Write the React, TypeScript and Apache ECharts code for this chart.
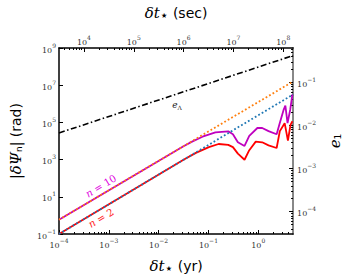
import React, { useEffect, useRef } from 'react';
import * as echarts from 'echarts';

// ---------- data ----------
const YR_TO_SEC = 3.156e7;
const timeRangeYr = [1e-4, 5.0];
const psiRange = [1e-1, 1e9];
const eRange = [3.04e-5, 0.628];

// n = 10 (magenta, solid)
const n10Time = [1e-4, 0.031, 0.048, 0.076, 0.138, 0.25, 0.31, 0.39, 0.53, 0.66, 0.96, 1.2, 1.61, 2.34, 2.67, 3.2, 3.5, 3.87, 4.38, 4.85];
const n10Psi = [0.59, 5100, 9500, 1.7e4, 2.9e4, 3.3e4, 2.3e4, 8500, 5400, 1.9e4, 5.0e4, 5.0e4, 3.4e4, 2.3e4, 8.1e4, 4.4e5, 7.9e5, 9.1e4, 4.8e5, 3.2e6];
// n = 2 (red, solid)
const n2Time = [1e-4, 0.031, 0.056, 0.102, 0.16, 0.25, 0.31, 0.39, 0.53, 0.66, 0.89, 1.2, 1.61, 2.34, 2.71, 3.39, 3.94, 4.44, 4.85];
const n2Psi = [0.1, 960, 2300, 4700, 6900, 6200, 4700, 2100, 980, 3200, 9300, 8500, 5800, 4200, 3.4e4, 9.1e4, 1.05e4, 7.4e4, 1.15e5];
// power-law (dotted) references
const n10PowerTime = [1e-4, 5.0];
const n10PowerPsi = [0.59, 1.58e7];
const n2PowerTime = [1e-4, 5.0];
const n2PowerPsi = [0.1, 3.16e6];
// e_Lambda (dash-dot, right axis)
const eLambdaTime = [1e-4, 5.0];
const eLambdaVal = [6.7e-3, 0.42];

// tick labels (decade exponents)
const leftTickExp = [-1, 1, 3, 5, 7, 9];
const bottomTickExp = [-4, -3, -2, -1, 0];
const topTickExp = [4, 5, 6, 7, 8];
const rightTickExp = [-4, -3, -2, -1];

// ---------- helpers ----------
const lg = Math.log10;
const pow10Label = (v: number) => {
  const e = Math.round(v);
  return `{b|10}{p|${e < 0 ? '−' + -e : e}}`;
};
const minorTicks = (lo: number, hi: number) => {
  const out: number[] = [];
  for (let d = Math.floor(lo) - 1; d <= Math.ceil(hi); d++) {
    for (let k = 2; k <= 9; k++) {
      const v = d + lg(k);
      if (v > lo && v < hi) out.push(v);
    }
  }
  return out;
};
const pairs = (xs: number[], ys: number[]) => xs.map((x, i) => [lg(x), lg(ys[i])]);

const LABEL_FONT = 'DejaVu Serif';
const labelStyle = {
  fontFamily: LABEL_FONT,
  color: '#333',
  rich: {
    b: { fontFamily: LABEL_FONT, fontSize: 8, color: '#333', verticalAlign: 'bottom', lineHeight: 12 },
    p: { fontFamily: LABEL_FONT, fontSize: 6, color: '#333', verticalAlign: 'top', lineHeight: 12 },
  },
};

export default function App() {
  const ref = useRef<HTMLDivElement>(null);
  useEffect(() => {
    if (!ref.current) return;
    const chart = echarts.init(ref.current, undefined, { renderer: 'svg' });

    const xMin = lg(timeRangeYr[0]);
    const xMax = lg(timeRangeYr[1]);
    const sMin = lg(timeRangeYr[0] * YR_TO_SEC);
    const sMax = lg(timeRangeYr[1] * YR_TO_SEC);
    const yMin = lg(psiRange[0]);
    const yMax = lg(psiRange[1]);
    const eMin = lg(eRange[0]);
    const eMax = lg(eRange[1]);

    const nameRich = {
      m: { fontFamily: 'DejaVu Serif', fontStyle: 'italic', fontSize: 15, color: '#000', verticalAlign: 'middle' },
      s: { fontFamily: 'DejaVu Sans', fontSize: 9, color: '#000', verticalAlign: 'bottom', padding: [6, 0, 0, 0] },
      st: { fontFamily: 'DejaVu Sans', fontSize: 14, color: '#000', verticalAlign: 'bottom', padding: [5, 0, 0, 0] },
      r: { fontFamily: 'DejaVu Sans', fontSize: 14, color: '#000', verticalAlign: 'middle' },
    };

    const majorTick = (len: number) => ({ show: true, inside: true, length: len, lineStyle: { color: '#000', width: 1 } });
    const spine = (color: string, width: number) => ({ show: true, onZero: false, lineStyle: { color, width } });
    const noSpine = { show: false, onZero: false };

    chart.setOption({
      animation: false,
      grid: { left: 55, right: 53, top: 41, bottom: 44, containLabel: false },
      xAxis: [
        {
          type: 'value', position: 'bottom', min: xMin, max: xMax,
          axisLine: spine('#000', 1.5),
          axisTick: { ...majorTick(4), customValues: bottomTickExp },
          axisLabel: { ...labelStyle, margin: 3, customValues: bottomTickExp, formatter: pow10Label },
          splitLine: { show: false },
          name: '{m|δt}{st|⋆}{r| (yr)}', nameLocation: 'middle', nameGap: 22,
          nameTextStyle: { rich: nameRich },
        },
        {
          type: 'value', position: 'bottom', min: xMin, max: xMax,
          axisLine: noSpine,
          axisTick: { ...majorTick(2), customValues: minorTicks(xMin, xMax) },
          axisLabel: { show: false },
          splitLine: { show: false },
        },
        {
          type: 'value', position: 'top', min: sMin, max: sMax,
          axisLine: spine('#000', 1.5),
          axisTick: { ...majorTick(4), customValues: topTickExp },
          axisLabel: { ...labelStyle, margin: 2, customValues: topTickExp, formatter: pow10Label },
          splitLine: { show: false },
          name: '{m|δt}{st|⋆}{r| (sec)}', nameLocation: 'middle', nameGap: 26,
          nameTextStyle: { rich: nameRich },
        },
        {
          type: 'value', position: 'top', min: sMin, max: sMax,
          axisLine: noSpine,
          axisTick: { ...majorTick(2), customValues: minorTicks(sMin, sMax) },
          axisLabel: { show: false },
          splitLine: { show: false },
        },
      ],
      yAxis: [
        {
          type: 'value', position: 'left', min: yMin, max: yMax,
          axisLine: spine('#000', 1.5),
          axisTick: { ...majorTick(4), customValues: leftTickExp },
          axisLabel: { ...labelStyle, margin: 3, customValues: leftTickExp, formatter: pow10Label },
          splitLine: { show: false },
          name: '{r||}{m|δΨ}{s|n}{r||}{r| (rad)}', nameLocation: 'middle', nameGap: 36, nameRotate: 90,
          nameTextStyle: { rich: nameRich },
        },
        {
          type: 'value', position: 'right', min: eMin, max: eMax,
          axisLine: spine('#888', 2),
          axisTick: { ...majorTick(4), customValues: rightTickExp },
          axisLabel: { ...labelStyle, margin: 4, customValues: rightTickExp, formatter: pow10Label },
          splitLine: { show: false },
          name: '{m|e}{s|1}', nameLocation: 'middle', nameGap: 30, nameRotate: 90,
          nameTextStyle: { rich: nameRich },
        },
        {
          type: 'value', position: 'right', min: eMin, max: eMax,
          axisLine: noSpine,
          axisTick: { ...majorTick(2), customValues: minorTicks(eMin, eMax) },
          axisLabel: { show: false },
          splitLine: { show: false },
        },
      ],
      series: [
        {
          name: 'eLambda', type: 'line', xAxisIndex: 0, yAxisIndex: 1, symbol: 'none',
          data: pairs(eLambdaTime, eLambdaVal),
          lineStyle: { color: '#000', width: 1.6, type: [6, 2.5, 1.5, 2.5] },
        },
        {
          name: 'n10', type: 'line', xAxisIndex: 0, yAxisIndex: 0, symbol: 'none',
          data: pairs(n10Time, n10Psi),
          lineStyle: { color: '#bf00bf', width: 1.8 },
        },
        {
          name: 'n2', type: 'line', xAxisIndex: 0, yAxisIndex: 0, symbol: 'none',
          data: pairs(n2Time, n2Psi),
          lineStyle: { color: '#ff0000', width: 1.8 },
        },
        {
          name: 'n10 power', type: 'line', xAxisIndex: 0, yAxisIndex: 0, symbol: 'none',
          data: pairs(n10PowerTime, n10PowerPsi),
          lineStyle: { color: '#ff7f0e', width: 1.8, type: [1.8, 2.2] },
        },
        {
          name: 'n2 power', type: 'line', xAxisIndex: 0, yAxisIndex: 0, symbol: 'none',
          data: pairs(n2PowerTime, n2PowerPsi),
          lineStyle: { color: '#1f77b4', width: 1.8, type: [1.8, 2.2] },
        },
      ],
      graphic: [
        {
          type: 'text', x: 101, y: 186, rotation: (31 * Math.PI) / 180,
          style: {
            text: '{i|n}{r| = 10}', align: 'center', verticalAlign: 'middle',
            rich: {
              i: { fontFamily: 'DejaVu Serif', fontStyle: 'italic', fontSize: 10, fill: '#e000e0' },
              r: { fontFamily: 'DejaVu Serif', fontSize: 10, fill: '#e000e0' },
            },
          },
        },
        {
          type: 'text', x: 101, y: 218, rotation: (31 * Math.PI) / 180,
          style: {
            text: '{i|n}{r| = 2}', align: 'center', verticalAlign: 'middle',
            rich: {
              i: { fontFamily: 'DejaVu Serif', fontStyle: 'italic', fontSize: 10, fill: '#ff2020' },
              r: { fontFamily: 'DejaVu Serif', fontSize: 10, fill: '#ff2020' },
            },
          },
        },
        {
          type: 'text', x: 177, y: 105,
          style: {
            text: '{i|e}{s|Λ}', align: 'center', verticalAlign: 'middle',
            rich: {
              i: { fontFamily: 'DejaVu Serif', fontStyle: 'italic', fontSize: 9, fill: '#222' },
              s: { fontFamily: 'DejaVu Serif', fontSize: 6, fill: '#222', verticalAlign: 'bottom', padding: [4, 0, 0, 0] },
            },
          },
        },
      ],
    });
    return () => chart.dispose();
  }, []);
  return <div ref={ref} style={{ position: 'fixed', left: 0, top: 0, width: 350, height: 280, background: '#fff' }} />;
}
